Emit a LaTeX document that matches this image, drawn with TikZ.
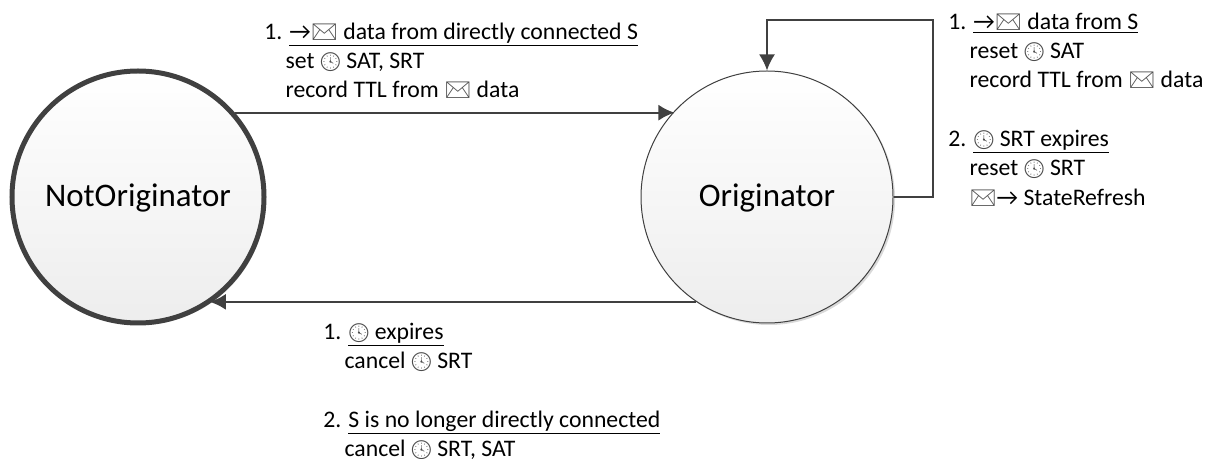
\documentclass[tikz,border=0pt]{standalone}
\usepackage{fontspec}
\setmainfont{Carlito}
\newfontfamily\emojifont{Noto Emoji}
\usetikzlibrary{arrows.meta,shadows}
\newcommand{\mailicon}{{\emojifont\fontsize{16}{16}\selectfont\textcolor{black!70}{✉}}}
\newcommand{\clockicon}{\kern-1pt{\emojifont\fontsize{14}{14}\selectfont\textcolor{black!70}{🕓}}\kern-1pt}
\newcommand{\indentnote}{\hspace*{16pt}}
\tikzset{
	state/.style={circle, minimum size=252*0.75pt, inner sep=0pt, text height=20pt, text depth=5pt, top color=white, bottom color=black!7, font=\fontsize{24.7}{30}\selectfont, drop shadow={shadow xshift=1.5pt, shadow yshift=-1.5pt, fill=black!15, opacity=1}},
	link/.style={line width=1.5pt, draw=black!75, -{Latex[length=12pt,width=12pt]}},
	note/.style={anchor=north west, align=left, inner sep=0pt, font=\fontsize{17.8}{22}\selectfont},
}
\begin{document}
\begin{tikzpicture}[x=0.75pt,y=-0.75pt]
	\useasboundingbox (0,0) rectangle (1206,459);

	\node[state, draw=black!75, line width=3.75pt] (notorig) at (138,197) {NotOriginator};
	\node[state, draw=black!75, line width=0.75pt] (orig) at (767,197) {Originator};

	\coordinate (loopright) at (933,197);
	\coordinate (looptop) at (933,20);

	\draw[link] (notorig.41) -- (notorig.41 -| orig.137.6);
	\draw[link] (orig.-124.4) -- (orig.-124.4 -| notorig.-56.5);
	\draw[link] (orig.east) -- (loopright) -- (looptop) -- (looptop -| orig.north) -- (orig.north);

	\node[note] (toplabel) at (264,22.5) {1. \underline{→\mailicon{} data from directly connected S}\\
		\indentnote set \clockicon{} SAT, SRT\\
		\indentnote record TTL from \mailicon{} data};
	\node[note] (looplabel) at (948,12.5) {1. \underline{→\mailicon{} data from S}\\
		\indentnote reset \clockicon{} SAT\\
		\indentnote record TTL from \mailicon{} data\\[22pt]
		2. \underline{\clockicon{} SRT expires}\\
		\indentnote reset \clockicon{} SRT\\
		\indentnote \mailicon{}→ StateRefresh};
	\node[note] (bottomlabel) at (323,322.5) {1. \underline{\clockicon{} expires}\\
		\indentnote cancel \clockicon{} SRT\\[22pt]
		2. \underline{S is no longer directly connected}\\
		\indentnote cancel \clockicon{} SRT, SAT};
\end{tikzpicture}
\end{document}
